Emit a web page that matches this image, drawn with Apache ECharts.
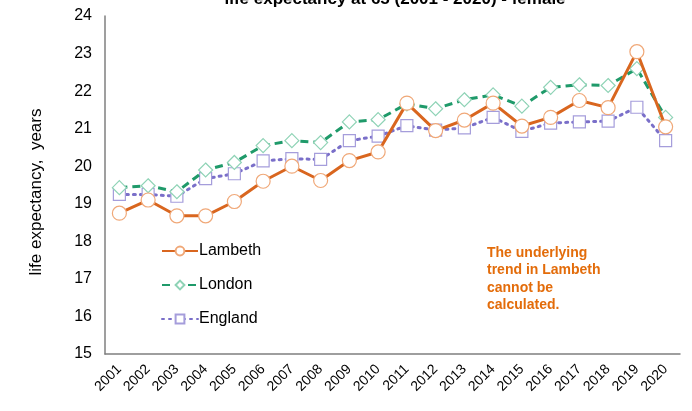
<!DOCTYPE html>
<html>
<head>
<meta charset="utf-8">
<script src="https://cdn.jsdelivr.net/npm/echarts@6/dist/echarts.min.js"></script>
<style>
  html, body { margin: 0; padding: 0; background: #fff; }
</style>
</head>
<body>
<div id="main" style="width: 692px;height:411px;"></div>
<script>
// years on the x axis
var years = ['2001', '2002', '2003', '2004', '2005', '2006', '2007', '2008', '2009', '2010',
  '2011', '2012', '2013', '2014', '2015', '2016', '2017', '2018', '2019', '2020']
// life expectancy at 65, female
var lambeth = [18.75, 19.1, 18.68, 18.68, 19.06, 19.6, 20.0, 19.62, 20.15, 20.38,
  21.68, 20.95, 21.23, 21.68, 21.07, 21.3, 21.75, 21.56, 23.05, 21.05]
var london = [19.43, 19.48, 19.32, 19.9, 20.1, 20.55, 20.68, 20.63, 21.18, 21.24,
  21.66, 21.53, 21.77, 21.9, 21.6, 22.1, 22.17, 22.15, 22.6, 21.3]
var england = [19.25, 19.25, 19.2, 19.67, 19.8, 20.14, 20.2, 20.18, 20.68, 20.8,
  21.08, 20.96, 21.02, 21.3, 20.93, 21.15, 21.18, 21.2, 21.57, 20.68]

var myChart = echarts.init(document.getElementById('main'))
var font = 'Liberation Sans, Arial, sans-serif'

var option = {
  animation: false,
  textStyle: { fontFamily: font },
  title: {
    text: 'life expectancy at 65 (2001 - 2020) - female',
    left: 390,
    textAlign: 'center',
    top: -14,
    textStyle: { fontSize: 17, fontWeight: 'bold', color: '#000', fontFamily: font }
  },
  legend: {
    orient: 'vertical',
    left: 156,
    top: 238,
    itemGap: 18,
    itemWidth: 36,
    itemHeight: 11,
    data: ['Lambeth', 'London', 'England'],
    textStyle: { fontSize: 16, color: '#000', fontFamily: font, padding: [0, 0, 0, -4] }
  },
  grid: { left: 105, right: 12, top: 16, bottom: 57 },
  xAxis: {
    type: 'category',
    data: years,
    boundaryGap: true,
    axisLine: { lineStyle: { color: '#7f7f7f', width: 1.5 } },
    axisTick: { show: false },
    axisLabel: { rotate: 45, fontSize: 14, color: '#000', margin: 13, interval: 0 }
  },
  yAxis: {
    type: 'value',
    min: 15,
    max: 24,
    interval: 1,
    axisLine: { show: true, lineStyle: { color: '#7f7f7f', width: 1.5 } },
    axisTick: { show: false },
    splitLine: { show: false },
    axisLabel: { fontSize: 16, color: '#000', margin: 13 }
  },
  graphic: [
    {
      // y axis title
      type: 'text',
      x: 36,
      y: 192,
      rotation: Math.PI / 2,
      style: {
        text: 'life expectancy,  years',
        fill: '#000',
        font: '17px ' + font,
        align: 'center',
        verticalAlign: 'middle'
      }
    },
    {
      type: 'text',
      left: 487,
      top: 244,
      style: {
        text: 'The underlying\ntrend in Lambeth\ncannot be\ncalculated.',
        fill: '#e36c0a',
        font: 'bold 14px ' + font,
        lineHeight: 17.5
      }
    }
  ],
  series: [
    {
      name: 'Lambeth',
      type: 'line',
      data: lambeth,
      z: 3,
      symbol: 'circle',
      symbolSize: 14,
      lineStyle: { color: '#d9661f', width: 3 },
      itemStyle: { color: '#fff', borderColor: '#f0a878', borderWidth: 1.2 }
    },
    {
      name: 'London',
      type: 'line',
      data: london,
      z: 2,
      symbol: 'diamond',
      symbolSize: 14,
      lineStyle: { color: '#1f9a6a', width: 3, type: [8, 5] },
      itemStyle: { color: '#fff', borderColor: '#8fd3b6', borderWidth: 1.2 }
    },
    {
      name: 'England',
      type: 'line',
      data: england,
      z: 1,
      symbol: 'rect',
      symbolSize: 12,
      lineStyle: { color: '#7a6fc9', width: 3, type: [2, 5], cap: 'round' },
      itemStyle: { color: '#fff', borderColor: '#a59ddb', borderWidth: 1.2 }
    }
  ]
}

myChart.setOption(option)
</script>
</body>
</html>
